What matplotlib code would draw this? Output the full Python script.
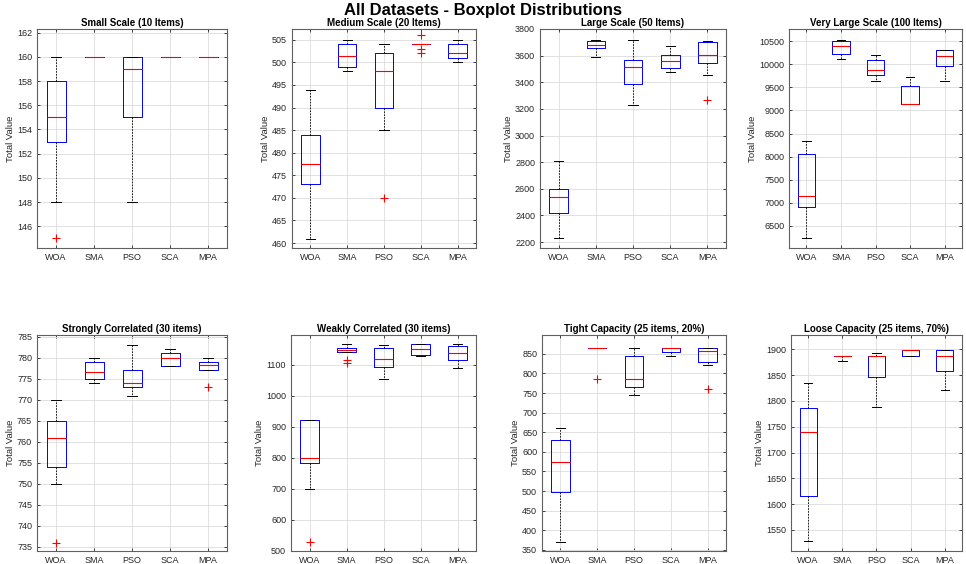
import matplotlib
matplotlib.use("Agg")
import matplotlib.pyplot as plt
from matplotlib.ticker import MultipleLocator

plt.rcParams['font.family'] = ['Liberation Sans', 'DejaVu Sans']

algorithms = ["WOA", "SMA", "PSO", "SCA", "MPA"]

titles = ["Small Scale (10 Items)", "Medium Scale (20 Items)", "Large Scale (50 Items)",
          "Very Large Scale (100 Items)", "Strongly Correlated (30 items)",
          "Weakly Correlated (30 items)", "Tight Capacity (25 items, 20%)",
          "Loose Capacity (25 items, 70%)"]

# each row: [whisker low, q1, median, q3, whisker high] per algorithm
small_stats = [[148, 153, 155, 158, 160], [160, 160, 160, 160, 160], [148, 155, 159, 160, 160],
               [160, 160, 160, 160, 160], [160, 160, 160, 160, 160]]
small_fliers = [[145], [], [], [], []]

medium_stats = [[461, 473, 477.5, 484, 494], [498, 499, 501.5, 504, 505], [485, 490, 498, 502, 504],
                [504, 504, 504, 504, 504], [500, 501, 502, 504, 505]]
medium_fliers = [[], [], [470], [502, 503, 506], []]

large_stats = [[2232, 2418, 2538, 2598, 2811], [3590, 3658, 3678, 3713, 3715], [3232, 3385, 3515, 3565, 3720],
               [3475, 3507, 3562, 3605, 3670], [3455, 3542, 3605, 3700, 3710]]
large_fliers = [[], [], [], [], [3269]]

vlarge_stats = [[6240, 6905, 7137, 8048, 8330], [10117, 10220, 10406, 10510, 10520],
                [9646, 9769, 9870, 10095, 10196], [9130, 9140, 9140, 9531, 9719],
                [9646, 9965, 10189, 10305, 10310]]
vlarge_fliers = [[], [], [], [], []]

strong_stats = [[750, 754, 761, 765, 770], [774, 775, 776.5, 779, 780], [771, 773, 774, 777, 783],
                [778, 778, 780, 781, 782], [777, 777, 778.3, 779, 780]]
strong_fliers = [[736], [], [], [], [773]]

weak_stats = [[700, 783, 800, 921, 921], [1140, 1141, 1148, 1153, 1165], [1054, 1093, 1117, 1153, 1162],
              [1128, 1130, 1150, 1165, 1165], [1088, 1116, 1138, 1158, 1165]]
weak_fliers = [[530], [1106, 1113], [], [], []]

tight_stats = [[370, 497, 573, 631, 660], [865, 865, 865, 865, 865], [745, 766, 786, 845, 865],
               [845, 855, 865, 865, 865], [821, 830, 856, 865, 865]]
tight_fliers = [[], [786], [], [], [761]]

loose_stats = [[1528, 1616, 1739, 1786, 1834], [1878, 1888, 1888, 1888, 1888], [1788, 1846, 1888, 1888, 1894],
               [1888, 1888, 1898, 1898, 1898], [1821, 1859, 1888, 1898, 1898]]
loose_fliers = [[], [], [], [], []]

all_stats = [small_stats, medium_stats, large_stats, vlarge_stats,
             strong_stats, weak_stats, tight_stats, loose_stats]
all_fliers = [small_fliers, medium_fliers, large_fliers, vlarge_fliers,
              strong_fliers, weak_fliers, tight_fliers, loose_fliers]

ylims = [(144.2, 162.3), (458.9, 507.4), (2155, 3800), (6015, 10768),
         (734.0, 785.4), (500, 1195), (347, 898), (1509, 1928)]
ysteps = [2, 5, 200, 500, 5, 100, 50, 50]

fig = plt.figure(figsize=(9.66, 5.64), dpi=100)
W, H = 966.0, 564.0
# axes rectangles in pixels: left, top, right, bottom
rects = [(37, 29, 227, 248), (292, 29, 476, 248), (540, 29, 726, 248), (789, 29, 962, 248),
         (37, 335, 227, 551), (291, 335, 476, 551), (542, 335, 726, 551), (791, 335, 962, 551)]

for i in range(8):
    l, t, r, b = rects[i]
    ax = fig.add_axes([l / W, 1 - b / H, (r - l) / W, (b - t) / H])
    stats = []
    for k, row in enumerate(all_stats[i]):
        wl, q1, med, q3, wh = row
        stats.append(dict(whislo=wl, q1=q1, med=med, q3=q3, whishi=wh,
                          fliers=all_fliers[i][k], label=algorithms[k]))
    ax.bxp(stats, positions=range(1, 6), widths=0.5, capwidths=0.25,
           boxprops=dict(color='blue', linewidth=0.7),
           medianprops=dict(color='red', linewidth=0.8, zorder=5),
           whiskerprops=dict(color='black', linewidth=0.6, linestyle=(0, (2, 1.5))),
           capprops=dict(color='black', linewidth=0.7),
           flierprops=dict(marker='+', markeredgecolor='red', markersize=6, markeredgewidth=0.8,
                           linestyle='none'))
    ax.set_xlim(0.5, 5.5)
    ax.set_ylim(*ylims[i])
    ax.yaxis.set_major_locator(MultipleLocator(ysteps[i]))
    ax.set_title(titles[i], fontsize=7, fontweight='bold', pad=2)
    ax.set_ylabel("Total Value", fontsize=6.8, color='#262626', labelpad=1.5)
    ax.grid(True, color='#dcdcdc', linewidth=0.6)
    ax.set_axisbelow(True)
    ax.tick_params(direction='in', length=2.5, labelsize=6.5, colors='#262626',
                   top=True, right=True, width=0.6)
    for sp in ax.spines.values():
        sp.set_color('#606060')
        sp.set_linewidth(0.8)

fig.text(0.5, 1 - 11 / H, "All Datasets - Boxplot Distributions", ha='center', va='center',
         fontsize=12, fontweight='bold')

fig.savefig("out.png", dpi=100)
